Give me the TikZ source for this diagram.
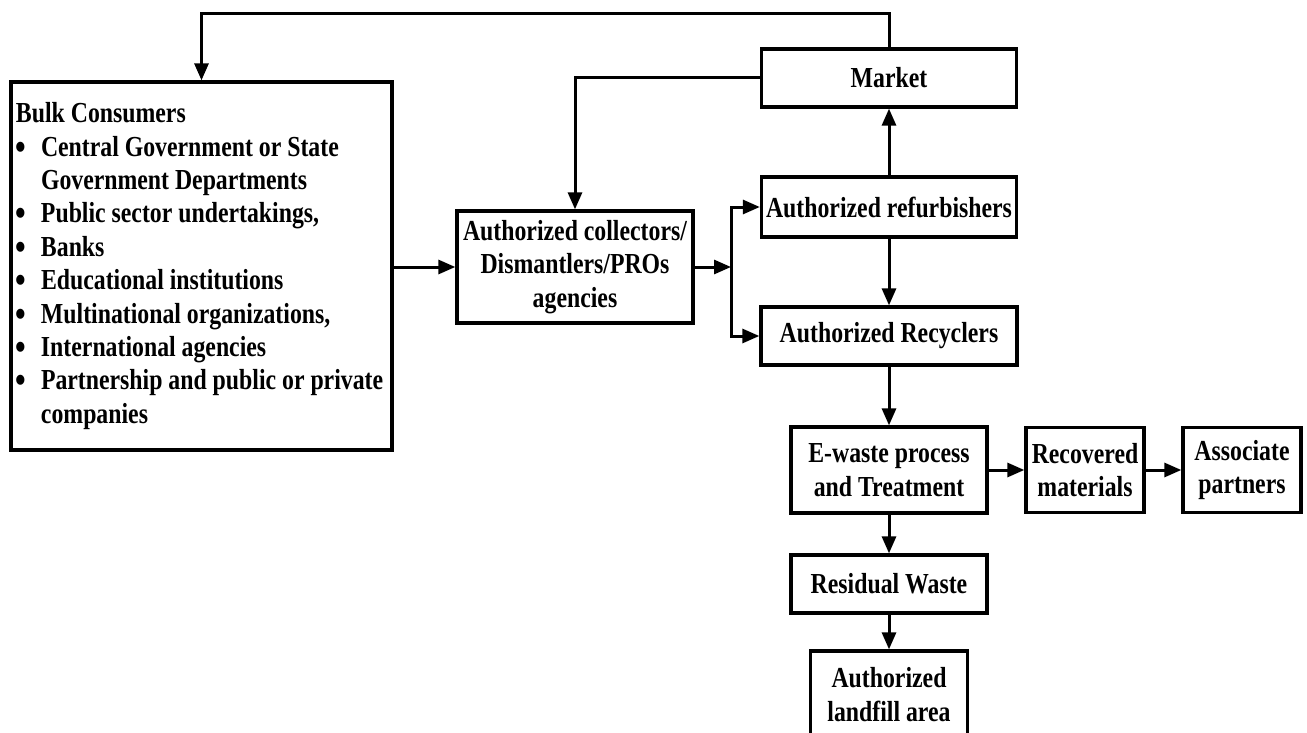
\documentclass[tikz,border=0pt]{standalone}
\usepackage{fontspec}
\setmainfont{Liberation Serif}[FakeStretch=0.82]
\usetikzlibrary{arrows.meta}
\newcommand{\bulitem}{\makebox[25pt][l]{\raisebox{-3pt}{\fontsize{37}{33.4}\selectfont\textbullet}}}
\newcommand{\contline}{\hspace*{25pt}}
\begin{document}
\begin{tikzpicture}[x=1pt,y=-1pt,
  font=\fontsize{29}{33.4}\selectfont\bfseries,
  box/.style={draw, line width=3.3pt, rectangle, inner sep=0pt, align=center, anchor=center},
  arr/.style={line width=3pt, -{Triangle[length=17pt,width=14pt]}}]
\useasboundingbox (0,0) rectangle (1307,733);
\clip (0,0) rectangle (1307,733);

% boxes
\node[box, align=flush left, text width=371pt, inner xsep=5pt, minimum height=368pt] (bulk) at (201.5,266) {%
\raisebox{0pt}[0pt][0pt]{}Bulk Consumers\\
\bulitem Central Government or State\\
\contline Government Departments\\
\bulitem Public sector undertakings,\\
\bulitem Banks\\
\bulitem Educational institutions\\
\bulitem Multinational organizations,\\
\bulitem International agencies\\
\bulitem Partnership and public or private\\
\contline companies};

\node[box, minimum width=236pt, minimum height=112pt] (coll) at (575,267) {Authorized collectors/\\Dismantlers/PROs\\agencies};
\node[box, minimum width=255pt, minimum height=58pt] (market) at (889,78) {Market};
\node[box, minimum width=255pt, minimum height=60pt] (refurb) at (889,207) {Authorized refurbishers};
\node[box, minimum width=256pt, minimum height=58pt] (recyc) at (889,336) {Authorized Recyclers};
\node[box, minimum width=196pt, minimum height=86pt] (ewaste) at (889,470) {E-waste process\\and Treatment};
\node[box, minimum width=118pt, minimum height=85pt] (recov) at (1085,470) {Recovered\\materials};
\node[box, minimum width=118pt, minimum height=85pt] (assoc) at (1242,470) {Associate\\partners};
\node[box, minimum width=196pt, minimum height=58pt] (resid) at (889,584) {Residual Waste};
\node[box, minimum width=157pt, minimum height=87pt] (landfill) at (889,694.5) {Authorized\\landfill area};

% helper points
\coordinate (top) at (500,14);
\coordinate (split) at (731,267);

% connectors
\draw[arr] (market.north) |- (top) -| (bulk.north);
\draw[arr] (market.west) -| (coll.north);
\draw[arr] (bulk.east |- coll.west) -- (coll.west);
\draw[arr] (coll.east) -- (split);
\draw[arr] (split) |- (refurb.west);
\draw[arr] (split) |- (recyc.west);
\draw[arr] (refurb.north) -- (market.south);
\draw[arr] (refurb.south) -- (recyc.north);
\draw[arr] (recyc.south) -- (ewaste.north);
\draw[arr] (ewaste.east) -- (recov.west);
\draw[arr] (recov.east) -- (assoc.west);
\draw[arr] (ewaste.south) -- (resid.north);
\draw[arr] (resid.south) -- (landfill.north);
\end{tikzpicture}
\end{document}
